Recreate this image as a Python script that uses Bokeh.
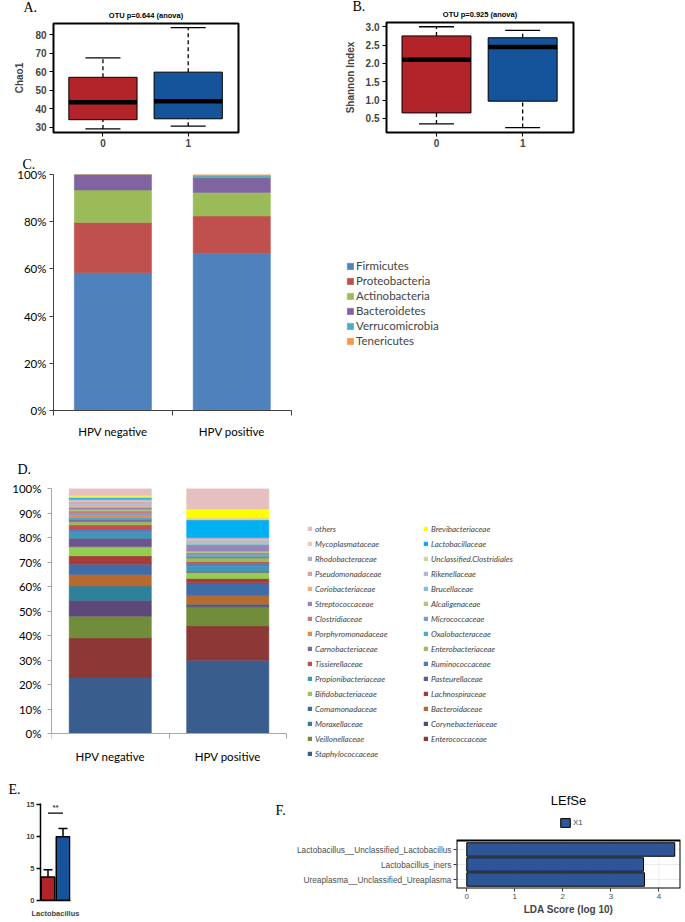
from bokeh.plotting import figure
from bokeh.layouts import column, row
from bokeh.models import (Range1d, FixedTicker, Label, Legend, LegendItem, Title,
                          ColumnDataSource, NumeralTickFormatter, BoxAnnotation,
                          PrintfTickFormatter, Whisker, TeeHead)
from bokeh.embed import file_html
from bokeh.resources import INLINE

# ---------------- Panels A / B : alpha diversity ----------------
box_groups = [0, 1]
box_colors = ["#B3242A", "#15549A"]

chao1_low = [29.0, 30.5]
chao1_q1 = [34.0, 34.5]
chao1_median = [43.5, 44.0]
chao1_q3 = [57.0, 59.8]
chao1_high = [67.5, 84.0]
chao1_ticks = [30, 40, 50, 60, 70, 80]

shannon_low = [0.35, 0.25]
shannon_q1 = [0.65, 0.97]
shannon_median = [2.1, 2.45]
shannon_q3 = [2.75, 2.7]
shannon_high = [3.0, 2.9]
shannon_ticks = [0.5, 1.0, 1.5, 2.0, 2.5, 3.0]

# ---------------- Panel C : phyla ----------------
hpv_groups = ["HPV negative", "HPV positive"]
phyla = ["Firmicutes", "Proteobacteria", "Actinobacteria", "Bacteroidetes",
         "Verrucomicrobia", "Tenericutes"]
phyla_colors = ["#4F81BD", "#C0504D", "#9BBB59", "#8064A2", "#4BACC6", "#F79646"]
firmicutes = [58.4, 66.6]
proteobacteria = [21.3, 15.8]
actinobacteria = [13.7, 10.0]
bacteroidetes = [6.6, 6.2]
verrucomicrobia = [0.0, 0.8]
tenericutes = [0.0, 0.6]
pct_ticks_c = [0, 20, 40, 60, 80, 100]

# ---------------- Panel D : families (bottom -> top) ----------------
families = ["Staphylococcaceae", "Enterococcaceae", "Veillonellaceae", "Corynebacteriaceae",
            "Moraxellaceae", "Bacteroidaceae", "Comamonadaceae", "Lachnospiraceae",
            "Bifidobacteriaceae", "Pasteurellaceae", "Propionibacteriaceae", "Ruminococcaceae",
            "Tissierellaceae", "Enterobacteriaceae", "Carnobacteriaceae", "Oxalobacteraceae",
            "Porphyromonadaceae", "Micrococcaceae", "Clostridiaceae", "Alcaligenaceae",
            "Streptococcaceae", "Brucellaceae", "Coriobacteriaceae", "Rikenellaceae",
            "Pseudomonadaceae", "Unclassified.Clostridiales", "Rhodobacteraceae",
            "Lactobacillaceae", "Mycoplasmataceae", "Brevibacteriaceae", "others"]
family_colors = ["#395E8D", "#8C3836", "#718C3A", "#5E4779",
                 "#2E8199", "#B86A2E", "#3F6BA6", "#A63C39",
                 "#92CF50", "#6D5491", "#3D99B3", "#4F7FC0",
                 "#C24E4A", "#9CBA5E", "#8266A6", "#4AABC4",
                 "#E9894A", "#7F9DCB", "#C77B79", "#B0C77F",
                 "#9884B5", "#7FC2D5", "#F6AE7E", "#A8B8D9",
                 "#D6A3A2", "#C6D8A7", "#B7AACB",
                 "#00B0F0", "#F9C9A7", "#FFFF00", "#E6BFC0"]
family_neg = [23.1, 15.9, 8.9, 6.5, 5.8, 4.7, 4.2, 3.4, 3.7, 3.5, 2.2, 1.6, 1.6, 1.3, 1.0, 0.8,
              0.9, 0.8, 0.9, 0.6, 0.8, 0.5, 0.7, 0.5, 0.7, 0.5, 0.6, 0.5, 0.6, 0.3, 2.9]
family_pos = [29.9, 14.0, 7.8, 0.7, 0.4, 3.4, 5.3, 1.8, 2.4, 0.5, 2.1, 1.0, 0.8, 1.6, 0.4, 0.5,
              0.3, 0.4, 0.5, 0.6, 2.6, 0.5, 0.4, 0.6, 0.4, 0.5, 0.6, 7.2, 0.8, 3.6, 8.4]
legend_left = ["others", "Mycoplasmataceae", "Rhodobacteraceae", "Pseudomonadaceae",
               "Coriobacteriaceae", "Streptococcaceae", "Clostridiaceae", "Porphyromonadaceae",
               "Carnobacteriaceae", "Tissierellaceae", "Propionibacteriaceae", "Bifidobacteriaceae",
               "Comamonadaceae", "Moraxellaceae", "Veillonellaceae", "Staphylococcaceae"]
legend_right = ["Brevibacteriaceae", "Lactobacillaceae", "Unclassified.Clostridiales",
                "Rikenellaceae", "Brucellaceae", "Alcaligenaceae", "Micrococcaceae",
                "Oxalobacteraceae", "Enterobacteriaceae", "Ruminococcaceae", "Pasteurellaceae",
                "Lachnospiraceae", "Bacteroidaceae", "Corynebacteriaceae", "Enterococcaceae"]
pct_ticks_d = [0, 10, 20, 30, 40, 50, 60, 70, 80, 90, 100]

# ---------------- Panel E : Lactobacillus ----------------
lacto_category = "Lactobacillus"
lacto_mean = [3.7, 10.0]
lacto_upper = [4.8, 11.3]
lacto_sig_y = 13.7
lacto_ticks = [0, 5, 10, 15]

# ---------------- Panel F : LEfSe ----------------
lefse_features = ["Lactobacillus__Unclassified_Lactobacillus", "Lactobacillus_iners",
                  "Ureaplasma__Unclassified_Ureaplasma"]
lefse_lda = [4.33, 3.68, 3.70]
lefse_ticks = [0, 1, 2, 3, 4]

SANS = "Liberation Sans"
SERIF = "Liberation Serif"


def mkfig(**kw):
    p = figure(output_backend="svg", toolbar_location=None, **kw)
    if hasattr(p, "frame_align"):
        p.frame_align = False
    p.title.text = ""
    p.title.standoff = 0
    return p


def add_title(p, text, align, offset, standoff, size="14px", font=SERIF, style="normal"):
    p.add_layout(Title(text=text, align=align, offset=offset, standoff=standoff,
                       text_font=font, text_font_size=size, text_font_style=style,
                       text_color="black"), "above")


def box_panel(ylabel, low, q1, med, q3, high, yrange, ticks, fmt,
              width, bl, br, bt, bb):
    p = mkfig(width=width, height=150, x_range=Range1d(-0.58, 1.59), y_range=Range1d(*yrange),
              min_border_left=bl, min_border_right=br, min_border_top=bt, min_border_bottom=bb)
    src = ColumnDataSource(dict(x=box_groups, low=low, q1=q1, med=med, q3=q3, high=high,
                                color=box_colors))
    p.add_layout(Whisker(source=src, base="x", lower="q3", upper="high", line_dash="4 3",
                         line_width=1.3, lower_head=None,
                         upper_head=TeeHead(size=35, line_width=1.3)))
    p.add_layout(Whisker(source=src, base="x", lower="low", upper="q1", line_dash="4 3",
                         line_width=1.3, upper_head=None,
                         lower_head=TeeHead(size=35, line_width=1.3)))
    p.vbar(x="x", width=0.8, bottom="q1", top="q3", fill_color="color",
           line_color="black", line_width=1, source=src)
    p.rect(x="x", y="med", width=0.8, height=4.5, height_units="screen",
           fill_color="black", line_color=None, source=src)
    p.xaxis.ticker = FixedTicker(ticks=box_groups)
    p.yaxis.ticker = FixedTicker(ticks=ticks)
    p.yaxis.formatter = fmt
    p.axis.axis_line_color = None
    p.axis.major_tick_out = 4
    p.axis.major_tick_in = 0
    p.axis.minor_tick_line_color = None
    p.axis.major_label_text_font = SANS
    p.axis.major_label_text_font_style = "bold"
    p.axis.major_label_text_font_size = "10px"
    p.axis.major_label_standoff = 2
    p.yaxis.major_label_standoff = 3
    p.yaxis.axis_label = ylabel
    p.yaxis.axis_label_text_font = SANS
    p.yaxis.axis_label_text_font_style = "bold"
    p.yaxis.axis_label_text_font_size = "10px"
    p.yaxis.axis_label_standoff = 7
    p.grid.visible = False
    p.outline_line_color = "black"
    p.outline_line_width = 2
    return p


pa = box_panel("Chao1", chao1_low, chao1_q1, chao1_median, chao1_q3,
               chao1_high, (27.05, 86.2), chao1_ticks, NumeralTickFormatter(format="0"),
               330, 53, 92, 23, 18)
add_title(pa, "OTU p=0.644 (anova)", "center", 0, 7, size="7.5px", font=SANS, style="bold")
add_title(pa, "A.", "left", -30, -18)

pb = box_panel("Shannon Index", shannon_low, shannon_q1, shannon_median,
               shannon_q3, shannon_high, (0.116, 3.116), shannon_ticks,
               NumeralTickFormatter(format="0.0"), 353, 56, 110, 22, 18)
add_title(pb, "OTU p=0.925 (anova)", "center", 0, 7, size="7.5px", font=SANS, style="bold")
add_title(pb, "B.", "left", -34, -18)


def stacked_panel(width, height, values_by_series, colors, ticks, bl, br, bt, bb, bar_width,
                  axis_color, tick_standoff, cat_standoff, axis_px_x, axis_px_y, fixed_x):
    n = len(hpv_groups)
    xs = [i + 0.5 for i in range(n)]
    frame_w = width - bl - br
    frame_h = height - bt - bb
    x_end = n * frame_w / axis_px_x
    y_start = 100 - 100 * frame_h / axis_px_y
    p = mkfig(width=width, height=height, x_range=Range1d(0, x_end),
              y_range=Range1d(y_start, 100),
              min_border_left=bl, min_border_right=br, min_border_top=bt, min_border_bottom=bb)
    data = {"x": xs}
    keys = []
    for i, vals in enumerate(values_by_series):
        data[f"s{i}"] = vals
        keys.append(f"s{i}")
    rs = p.vbar_stack(keys, x="x", width=bar_width, color=colors, line_width=0.5,
                      source=ColumnDataSource(data))
    p.xaxis.ticker = FixedTicker(ticks=xs, minor_ticks=list(range(n + 1)))
    p.xaxis.major_label_overrides = {x: g for x, g in zip(xs, hpv_groups)}
    p.xaxis.bounds = (0, n)
    if fixed_x:
        p.xaxis.fixed_location = 0
    p.xaxis.major_tick_line_color = None
    p.xaxis.minor_tick_out = 5
    p.xaxis.minor_tick_in = 0
    p.xaxis.minor_tick_line_color = axis_color
    p.xaxis.major_label_standoff = cat_standoff
    p.yaxis.ticker = FixedTicker(ticks=ticks)
    p.yaxis.bounds = (0, 100)
    p.yaxis.formatter = PrintfTickFormatter(format="%d%%")
    p.yaxis.major_tick_out = 4
    p.yaxis.major_tick_in = 0
    p.yaxis.minor_tick_line_color = None
    p.yaxis.major_tick_line_color = axis_color
    p.yaxis.major_label_standoff = tick_standoff
    p.axis.axis_line_color = axis_color
    p.axis.major_label_text_font = "Lato"
    p.axis.major_label_text_font_size = "11.5px"
    p.axis.major_label_text_color = "black"
    p.grid.visible = False
    p.outline_line_color = None
    return p, rs


pc, rc = stacked_panel(683, 290, [firmicutes, proteobacteria, actinobacteria, bacteroidetes,
                                  verrucomicrobia, tenericutes], phyla_colors, pct_ticks_c,
                       53, 3, 24, 30, 0.65, "#404040", 3, 8, 237.7, 236.0, False)
leg_c = Legend(items=[LegendItem(label=n, renderers=[r]) for n, r in zip(phyla, rc)],
               location=(293, 62), orientation="vertical", glyph_width=8, glyph_height=8,
               label_height=15, label_standoff=2, spacing=0, padding=0, margin=0,
               border_line_color=None, background_fill_alpha=0,
               label_text_font="Lato", label_text_font_size="11.5px")
pc.add_layout(leg_c, "center")
add_title(pc, "C.", "left", -31, 5)

pd_, rd = stacked_panel(683, 332, [[a, b] for a, b in zip(family_neg, family_pos)],
                        family_colors, pct_ticks_d, 51, 3, 48, 4, 0.70, "#A6A6A6", 6, 10,
                        235.0, 245.0, True)
fam_r = {f: r for f, r in zip(families, rd)}
for names, loc in ((legend_left, (256, 7)), (legend_right, (372, 22))):
    lg = Legend(items=[LegendItem(label=n, renderers=[fam_r[n]]) for n in names],
                location=loc, orientation="vertical", glyph_width=5, glyph_height=5,
                label_height=15, label_standoff=3, spacing=0, padding=0, margin=0,
                border_line_color=None, background_fill_alpha=0,
                label_text_font="Lato", label_text_font_size="8px",
                label_text_font_style="italic")
    pd_.add_layout(lg, "center")
add_title(pd_, "D.", "left", -34, 24)

# ---------------- Panel E ----------------
pe = mkfig(width=250, height=148, x_range=Range1d(0, 2), y_range=Range1d(0, 15.2),
           min_border_left=40, min_border_right=180, min_border_top=31, min_border_bottom=12)
xs_e = [i + 0.5 for i in range(len(lacto_mean))]
mid_e = sum(xs_e) / len(xs_e)
src_e = ColumnDataSource(dict(x=xs_e, mean=lacto_mean, upper=lacto_upper, color=box_colors))
pe.add_layout(Whisker(source=src_e, base="x", lower="mean", upper="upper", line_width=1.5,
                      lower_head=None, upper_head=TeeHead(size=9, line_width=1.5)))
pe.vbar(x="x", width=0.9, bottom=0, top="mean", fill_color="color", line_color="black",
        line_width=1.5, source=src_e)
pe.line(x=[xs_e[0], xs_e[-1]], y=[lacto_sig_y, lacto_sig_y], line_color="black", line_width=1.2)
pe.add_layout(Label(x=mid_e, y=lacto_sig_y, y_offset=1, text="**",
                    text_align="center", text_baseline="bottom", text_font=SANS,
                    text_font_size="8px", text_font_style="bold"))
pe.xaxis.ticker = FixedTicker(ticks=[mid_e])
pe.xaxis.major_label_overrides = {mid_e: lacto_category}
pe.xaxis.major_tick_line_color = None
pe.xaxis.major_label_standoff = 2
pe.yaxis.ticker = FixedTicker(ticks=lacto_ticks)
pe.yaxis.major_tick_out = 4
pe.yaxis.major_tick_in = 0
pe.yaxis.major_label_standoff = 2
pe.axis.minor_tick_line_color = None
pe.axis.axis_line_width = 1.5
pe.axis.major_tick_line_width = 1.5
pe.axis.major_label_text_font = SANS
pe.axis.major_label_text_font_style = "bold"
pe.axis.major_label_text_font_size = "7.5px"
pe.grid.visible = False
pe.outline_line_color = None
add_title(pe, "E.", "left", -32, 13)

# ---------------- Panel F ----------------
n_f = len(lefse_features)
ys_f = [n_f - i for i in range(n_f)]          # first feature on top
f_lo, f_hi = min(ys_f) - 0.6, max(ys_f) + 0.6  # ggplot discrete expansion
f_x0, f_x1 = -0.214, 4.45
f_panel_px = 48.0
f_height, f_bt, f_bb = 148, 44, 32
f_top = f_lo + (f_hi - f_lo) * (f_height - f_bt - f_bb) / f_panel_px
pf = mkfig(width=433, height=f_height, x_range=Range1d(f_x0, f_x1), y_range=Range1d(f_lo, f_top),
           min_border_left=206, min_border_right=3, min_border_top=f_bt, min_border_bottom=f_bb)
minor_f = [t + 0.5 for t in lefse_ticks]
pf.segment(x0=minor_f, x1=minor_f, y0=[f_lo] * len(minor_f), y1=[f_hi] * len(minor_f),
           line_color="#F4F4F4", line_width=0.6)
pf.segment(x0=lefse_ticks, x1=lefse_ticks, y0=[f_lo] * len(lefse_ticks),
           y1=[f_hi] * len(lefse_ticks), line_color="#EBEBEB", line_width=1)
pf.segment(x0=[f_x0] * n_f, x1=[f_x1] * n_f, y0=ys_f, y1=ys_f, line_color="#EBEBEB", line_width=1)
rf = pf.hbar(y="y", left=0, right="lda", height=0.9, fill_color="#2D5598",
             line_color="black", line_width=1,
             source=ColumnDataSource(dict(y=ys_f, lda=lefse_lda)))
pf.add_layout(BoxAnnotation(bottom=f_lo, top=f_hi, fill_alpha=0, line_color="black",
                            line_width=2, line_alpha=1))
pf.xaxis.ticker = FixedTicker(ticks=lefse_ticks)
pf.xaxis.axis_label = "LDA Score (log 10)"
pf.xaxis.axis_label_text_font = SANS
pf.xaxis.axis_label_text_font_style = "bold"
pf.xaxis.axis_label_text_font_size = "10px"
pf.xaxis.axis_label_standoff = 2
pf.yaxis.ticker = FixedTicker(ticks=ys_f)
pf.yaxis.major_label_overrides = {y: f for y, f in zip(ys_f, lefse_features)}
pf.axis.axis_line_color = None
pf.axis.major_tick_out = 3
pf.axis.major_tick_in = 0
pf.axis.major_tick_line_color = "#333333"
pf.axis.minor_tick_line_color = None
pf.axis.major_label_standoff = 2
pf.axis.major_label_text_font = SANS
pf.axis.major_label_text_color = "#4D4D4D"
pf.xaxis.major_label_text_font_size = "8px"
pf.yaxis.major_label_text_font_size = "8.3px"
pf.grid.visible = False
pf.outline_line_color = None
leg_f = Legend(items=[LegendItem(label="X1", renderers=[rf])], location=(103, 60),
               glyph_width=12, glyph_height=11, label_height=11, label_standoff=2,
               padding=0, margin=0, spacing=0, border_line_color=None,
               background_fill_alpha=0, label_text_font=SANS, label_text_font_size="8px")
pf.add_layout(leg_f, "center")
add_title(pf, "F.", "left", -181, -3)
add_title(pf, "LEfSe", "center", -96, -11, size="13px", font=SANS)

layout = column(row(pa, pb), pc, pd_, row(pe, pf))
open("out.html", "w").write(file_html(layout, INLINE))
